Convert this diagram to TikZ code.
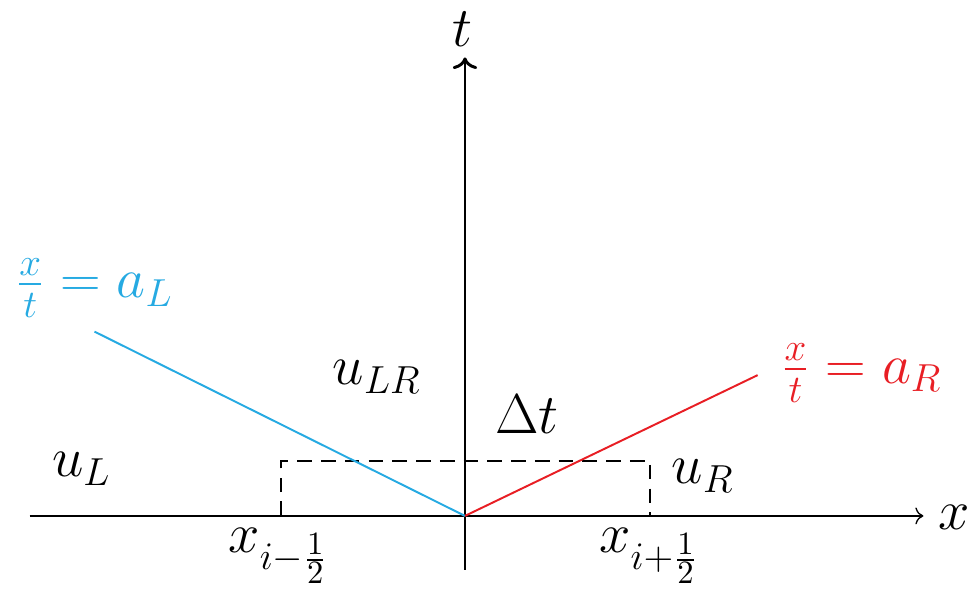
\documentclass[tikz,border=0pt]{standalone}
\usepackage{amsmath,amssymb}
\usepackage{xcolor}
\usepackage{tikz}
\usetikzlibrary{positioning,arrows.meta}
\definecolor{leftc}{RGB}{38,170,226}
\definecolor{rightc}{RGB}{232,30,36}
\tikzset{
  xaxis/.style   = {->, draw=black},
  taxis/.style   = {->, line width=0.9pt, draw=black},
  wave/.style    = {semithick},
  cellbox/.style = {draw=black, semithick, dash pattern=on 4.5pt off 2.8pt},
  axlbl/.style   = {font=\LARGE, inner sep=0pt},
  state/.style   = {font=\LARGE, inner sep=0pt},
  speed/.style   = {font=\LARGE, inner sep=0pt},
}

\begin{document}
\begin{tikzpicture}
\useasboundingbox (-50.2mm,-7.8mm) rectangle (54.2mm,55.7mm);

% ---- axes ----
\coordinate (O) at (0,0);
\coordinate (xbeg) at (-47mm,0);
\coordinate (xend) at (49.5mm,0);
\coordinate (tbeg) at (0,-5.8mm);
\coordinate (tend) at (0,49.5mm);
\draw[xaxis] (xbeg) -- (xend);
\draw[taxis] (tbeg) -- (tend);
\node[axlbl] (xlab) at (52.8mm,-0.2mm) {$x$};
\node[axlbl] (tlab) at (-0.3mm,52.6mm) {$t$};

% ---- the cell and its time step ----
\coordinate (cl) at (-19.9mm,0);
\coordinate (cr) at (20.0mm,0);
\coordinate (cl') at (-19.9mm,5.9mm);
\coordinate (cr') at (20.0mm,5.9mm);
\draw[cellbox] (cl) -- (cl') -- (cr') -- (cr);
\node[state] (xm) at (-20.1mm,-4.3mm) {$x_{i-\frac{1}{2}}$};
\node[state] (xp) at (19.9mm,-4.3mm) {$x_{i+\frac{1}{2}}$};
\node[state] (dt) at (6.7mm,11.0mm) {$\Delta t$};

% ---- the two waves ----
\coordinate (aL) at (-40.0mm,19.9mm);
\coordinate (aR) at (31.6mm,15.2mm);
\draw[wave, leftc] (O) -- (aL);
\draw[wave, rightc] (O) -- (aR);
\node[speed, text=leftc] (sL) at (-40.0mm,24.6mm) {$\frac{x}{t}=a_L$};
\node[speed, text=rightc] (sR) at (42.8mm,15.4mm) {$\frac{x}{t}=a_R$};

% ---- states ----
\node[state] (uL) at (-41.4mm,5.1mm) {$u_L$};
\node[state] (uLR) at (-9.5mm,15.0mm) {$u_{LR}$};
\node[state] (uR) at (25.7mm,4.3mm) {$u_R$};

\end{tikzpicture}
\end{document}
